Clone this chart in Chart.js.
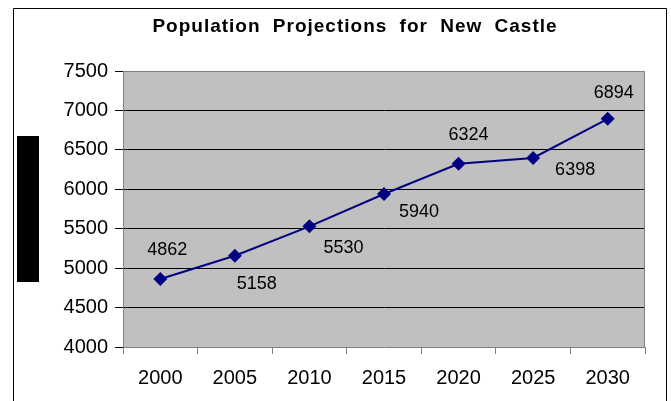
<!DOCTYPE html>
<html>
<head>
<meta charset="utf-8">
<script src="https://cdn.jsdelivr.net/npm/chart.js@4"></script>
<style>
  html, body { margin: 0; padding: 0; background: #fff; }
  #wrap { width: 671px; height: 401px; }
</style>
</head>
<body>
<div id="wrap"><canvas id="grafico" width="671" height="401"></canvas></div>
<script>
// dados
const anos = ["2000", "2005", "2010", "2015", "2020", "2025", "2030"];
const populacao = [4862, 5158, 5530, 5940, 6324, 6398, 6894];
const yTicks = [4000, 4500, 5000, 5500, 6000, 6500, 7000, 7500];
const titulo = "Population Projections for New Castle";

// deslocamento dos rótulos em relação ao ponto (dx, dy)
const labelOffsets = [[7, -29], [22, 28], [34, 22], [35, 18], [10, -29], [42, 12], [6, -26]];

const FONT = "'Liberation Sans', Arial, sans-serif";

// fundo cinza da área do gráfico + moldura
const plotBg = {
  id: "plotBg",
  beforeDraw(chart) {
    const { ctx, chartArea: a } = chart;
    ctx.save();
    ctx.fillStyle = "#ffffff";
    ctx.fillRect(0, 0, chart.width, chart.height);
    ctx.fillStyle = "#c0c0c0";
    ctx.fillRect(a.left, a.top, a.right - a.left, a.bottom - a.top);
    ctx.restore();
  },
  afterDraw(chart) {
    const { ctx, chartArea: a } = chart;
    ctx.save();
    // borda cinza do plot
    ctx.strokeStyle = "#808080";
    ctx.lineWidth = 1;
    ctx.beginPath();
    ctx.moveTo(a.left + 0.5, a.bottom);
    ctx.lineTo(a.left + 0.5, a.top + 0.5);
    ctx.lineTo(a.right - 0.5, a.top + 0.5);
    ctx.lineTo(a.right - 0.5, a.bottom);
    ctx.stroke();
    // moldura externa
    ctx.strokeStyle = "#000000";
    ctx.beginPath();
    ctx.moveTo(13.5, chart.height);
    ctx.lineTo(13.5, 8.5);
    ctx.lineTo(666.5, 8.5);
    ctx.lineTo(666.5, chart.height);
    ctx.stroke();
    // bloco preto à esquerda
    ctx.fillStyle = "#000000";
    ctx.fillRect(17, 136, 22, 146);
    // título
    ctx.fillStyle = "#000000";
    ctx.font = "bold 19px " + FONT;
    ctx.letterSpacing = "1px";
    ctx.wordSpacing = "6px";
    ctx.textAlign = "center";
    ctx.textBaseline = "middle";
    ctx.fillText(titulo, 355, 27);
    ctx.restore();
  }
};

// rótulos de dados
const dataLabels = {
  id: "dataLabels",
  afterDatasetsDraw(chart) {
    const { ctx } = chart;
    const meta = chart.getDatasetMeta(0);
    ctx.save();
    ctx.fillStyle = "#000000";
    ctx.font = "18px " + FONT;
    ctx.textAlign = "center";
    ctx.textBaseline = "middle";
    meta.data.forEach(function (pt, i) {
      const off = labelOffsets[i];
      ctx.fillText(String(populacao[i]), pt.x + off[0], pt.y + off[1]);
    });
    ctx.restore();
  }
};

const ctx = document.getElementById("grafico");

new Chart(ctx, {
  type: "line",
  data: {
    labels: anos,
    datasets: [
      {
        label: "Population",
        data: populacao,
        borderColor: "#000080",
        backgroundColor: "#000080",
        borderWidth: 2,
        tension: 0,
        pointStyle: "rectRot",
        pointRadius: 7,
        pointBorderWidth: 0,
        pointBackgroundColor: "#000080"
      }
    ]
  },
  options: {
    responsive: false,
    animation: false,
    layout: {
      padding: { top: 71, right: 26, bottom: 0, left: 0 }
    },
    plugins: {
      legend: { display: false },
      title: { display: false },
      tooltip: { enabled: false }
    },
    scales: {
      x: {
        offset: true,
        afterFit(scale) { scale.height = 54; },
        grid: {
          offset: true,
          drawOnChartArea: false,
          drawTicks: true,
          tickLength: 7,
          tickColor: "#808080"
        },
        border: { color: "#808080" },
        ticks: {
          color: "#000000",
          font: { family: FONT, size: 20 },
          padding: 12,
          maxRotation: 0
        }
      },
      y: {
        min: 4000,
        max: 7500,
        afterFit(scale) { scale.width = 123; },
        afterBuildTicks(scale) {
          scale.ticks = yTicks.map(function (v) { return { value: v }; });
        },
        grid: {
          color: function (c) {
            const v = c.tick && c.tick.value;
            return v === 4000 || v === 7500 ? "rgba(0,0,0,0)" : "#000000";
          },
          tickLength: 8,
          tickColor: "#000000"
        },
        border: { color: "#808080" },
        ticks: {
          color: "#000000",
          font: { family: FONT, size: 20 },
          padding: 7,
          callback: function (v) { return String(v); }
        }
      }
    }
  },
  plugins: [plotBg, dataLabels]
});
</script>
</body>
</html>
